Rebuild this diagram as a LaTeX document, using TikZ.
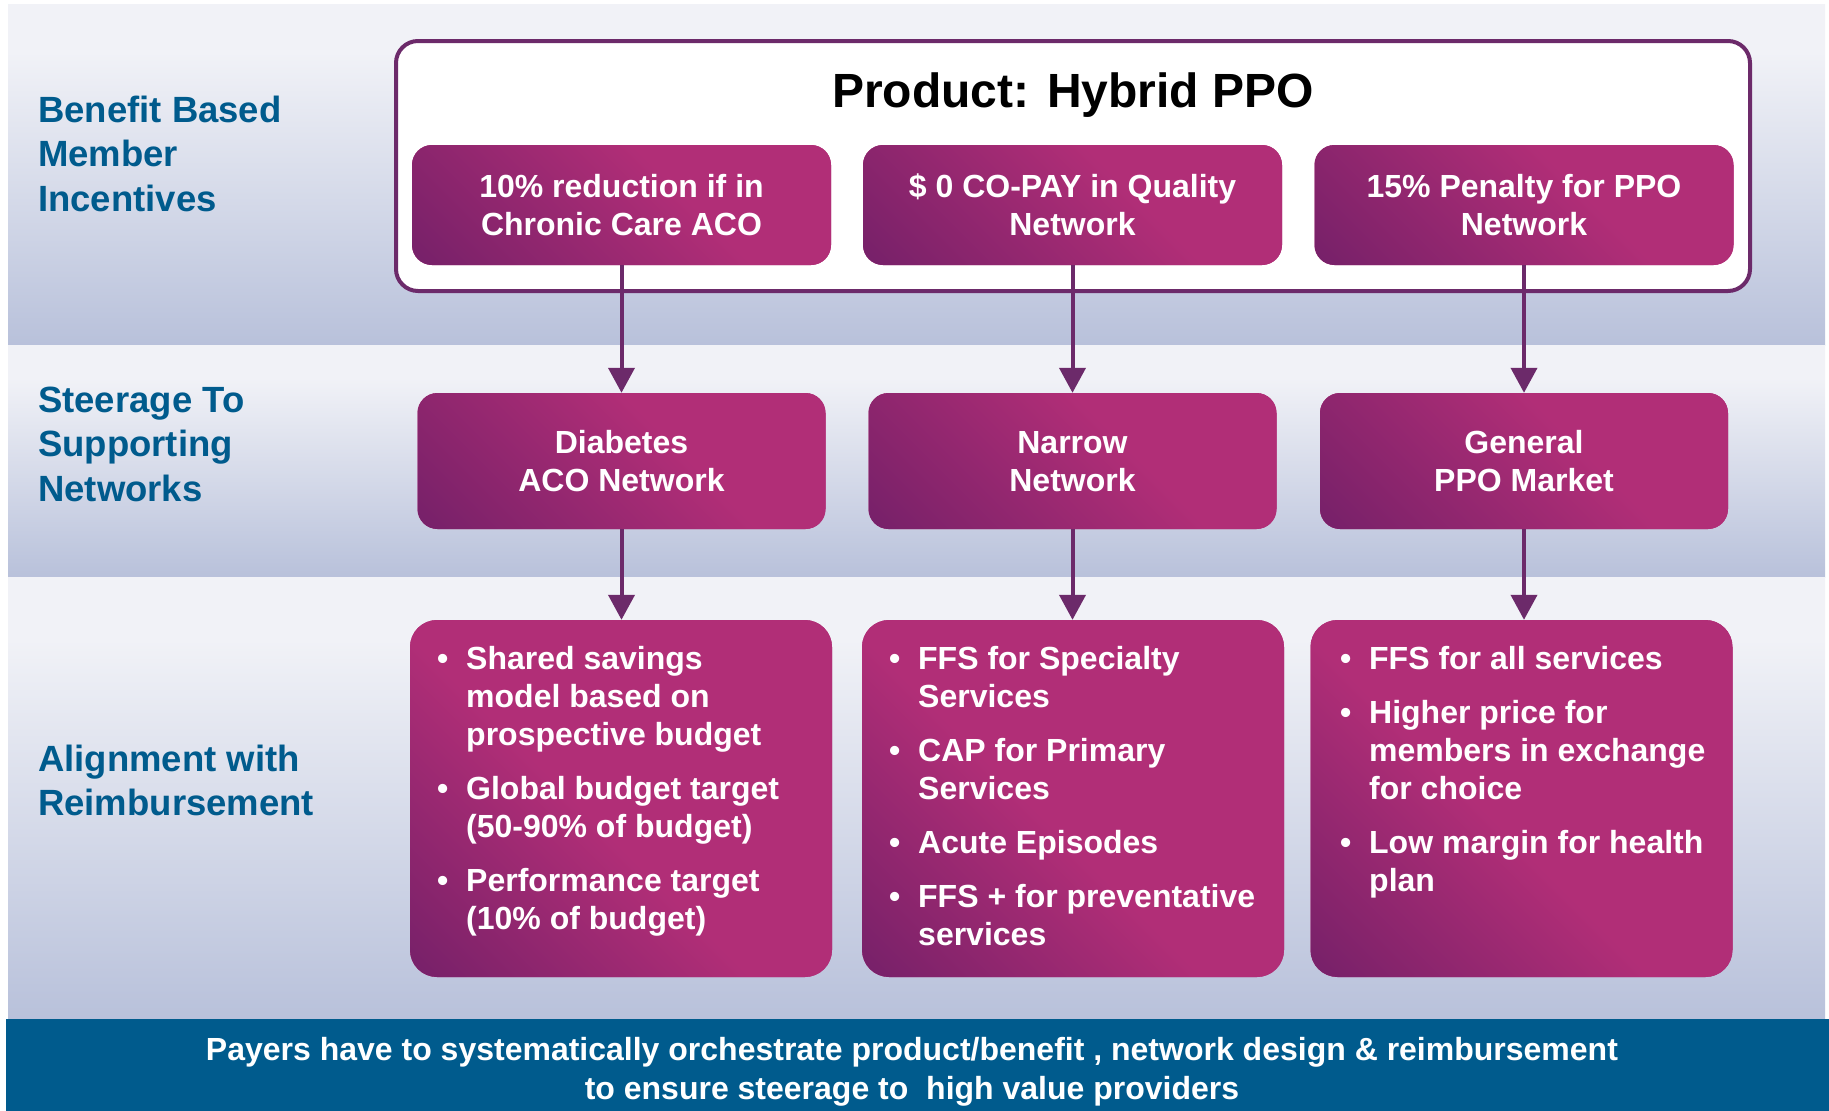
\documentclass[tikz,border=0pt]{standalone}
\usepackage{fontspec}
\setmainfont{Liberation Sans}
\usetikzlibrary{arrows.meta}

\definecolor{bandlight}{RGB}{241,242,247}
\definecolor{bandlav}{RGB}{175,185,214}
\definecolor{navy}{RGB}{0,91,141}
\definecolor{plum}{RGB}{108,42,106}
\definecolor{pdark}{RGB}{98,28,102}
\definecolor{pmid}{RGB}{134,36,108}
\definecolor{pmag}{RGB}{177,46,119}

% light-to-lavender wash for the three horizontal bands
\pgfdeclareverticalshading{bandgrad}{100bp}{color(0bp)=(bandlav); color(18bp)=(bandlav); color(68bp)=(bandlight); color(100bp)=(bandlight)}
% purple ramp that starts in the lower-left corner of each card
\pgfdeclarehorizontalshading{boxgrad}{100bp}{color(0bp)=(pdark); color(6bp)=(pdark); color(22bp)=(pmid); color(42bp)=(pmag); color(100bp)=(pmag)}

\newcommand{\itembul}{\llap{\textbullet\hspace{18pt}}}

\tikzset{
  band/.style={shading=bandgrad, draw=none},
  card/.style={rectangle, rounded corners=#1, fill=pmag, text=white,
    font=\fontsize{32}{38}\selectfont\bfseries, align=center, inner sep=0pt,
    path picture={\shade[shading=boxgrad, shading angle=45]
      (path picture bounding box.south west) rectangle ++(440pt,440pt);}},
  topcard/.style={card=20pt, minimum width=419pt, minimum height=120pt},
  midcard/.style={card=20pt, minimum width=408pt, minimum height=136pt},
  lowcard/.style={card=27pt, minimum width=422pt, minimum height=357pt},
  bullets/.style={anchor=north west, align=left, inner sep=0pt, text=white,
    font=\fontsize{32}{38}\selectfont\bfseries},
  rowlabel/.style={anchor=north west, align=left, inner sep=0pt, text=navy,
    font=\fontsize{36.5}{44.5}\selectfont\bfseries},
  conn/.style={draw=plum, line width=4pt, -{Triangle[width=26pt,length=25pt]}},
}

\begin{document}
\begin{tikzpicture}[x=1pt, y=-1pt]
\useasboundingbox (0,0) rectangle (1829,1111);

% background bands and footer bar
\shade[band] (8,4) rectangle (1825,345);
\shade[band] (8,345) rectangle (1825,577);
\shade[band] (8,577) rectangle (1825,1019);
\fill[navy] (6,1019) rectangle (1829,1111);

% row labels
\node[rowlabel] (lab1) at (38,95.4) {Benefit Based\\Member\\Incentives};
\node[rowlabel] (lab2) at (38,386.4) {Steerage To\\Supporting\\Networks};
\node[rowlabel] (lab3) at (38,744.4) {Alignment with\\Reimbursement};

% product frame
\node[draw=plum, line width=4pt, fill=white, rounded corners=22pt, inner sep=0pt,
      minimum width=1354pt, minimum height=250pt] (product) at (1073,166) {};
\node[anchor=base, inner sep=0pt, font=\fontsize{48}{56}\selectfont\bfseries] (title) at (1073,107) {Product: Hybrid PPO};

% member incentives
\node[topcard] (t1) at (621.5,205) {10\% reduction if in\\Chronic Care ACO};
\node[topcard] (t2) at (1072.5,205) {\$ 0 CO-PAY in Quality\\Network};
\node[topcard] (t3) at (1524,205) {15\% Penalty for PPO\\Network};

% supporting networks
\node[midcard] (m1) at (621.5,461) {Diabetes\\ACO Network};
\node[midcard] (m2) at (1072.5,461) {\vphantom{Nd}Narrow\\Network};
\node[midcard] (m3) at (1524,461) {General\\PPO Market};

% reimbursement cards
\node[lowcard] (b1) at (621,798.5) {};
\node[lowcard] (b2) at (1073,798.5) {};
\node[lowcard] (b3) at (1521.5,798.5) {};

\node[bullets] (b1t) at (466,645.7) {\itembul Shared savings\\model based on\\prospective budget\\[16pt]
  \itembul Global budget target\\(50-90\% of budget)\\[16pt]
  \itembul Performance target\\(10\% of budget)};
\node[bullets] (b2t) at (918,645.7) {\itembul FFS for Specialty\\Services\\[16pt]
  \itembul CAP for Primary\\Services\\[16pt]
  \itembul Acute Episodes\\[16pt]
  \itembul FFS + for preventative\\services};
\node[bullets] (b3t) at (1369,645.7) {\itembul FFS for all services\\[16pt]
  \itembul Higher price for\\members in exchange\\for choice\\[16pt]
  \itembul Low margin for health\\plan};

% connectors
\draw[conn] (t1) -- (m1);
\draw[conn] (t2) -- (m2);
\draw[conn] (t3) -- (m3);
\draw[conn] (m1.south) -- (m1.south |- b1.north);
\draw[conn] (m2.south) -- (m2.south |- b2.north);
\draw[conn] (m3.south) -- (m3.south |- b3.north);

% footer message
\node[anchor=north, align=center, inner sep=0pt, text=white,
      font=\fontsize{32}{39}\selectfont\bfseries] (msg) at (912,1036.7)
  {Payers have to systematically orchestrate product/benefit , network design \& reimbursement\\
   to ensure steerage to\ \ high value providers};
\end{tikzpicture}
\end{document}
